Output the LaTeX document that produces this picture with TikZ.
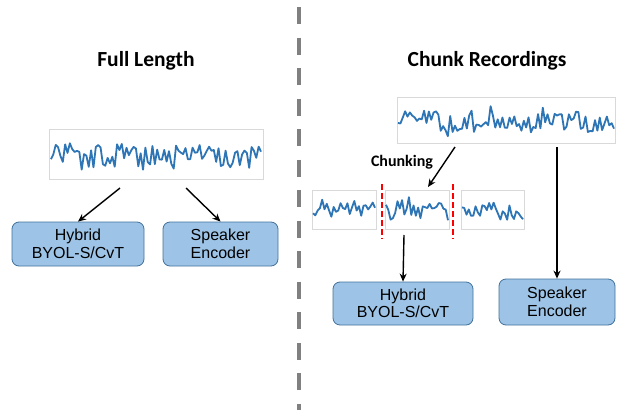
\documentclass[tikz,border=0pt]{standalone}
\usepackage{fontspec}
\setmainfont{Liberation Sans}
\newfontfamily\calib{Carlito}
\usetikzlibrary{arrows.meta}
\definecolor{boxfill}{HTML}{9DC3E6}
\definecolor{boxline}{HTML}{41719C}
\definecolor{wavecol}{HTML}{2E75B6}
\definecolor{framecol}{HTML}{D9D9D9}
\definecolor{divgray}{HTML}{808080}
\newcommand{\wavefm}[6]{%
  \pgfmathsetseed{#5}%
  \draw[wave] plot[domain=#1:#2, samples=#6] (\x, {#3 + #4*(0.8*rand + 0.35*rand*rand*rand + 0.25*sin(\x*5) + 0.2*sin(\x*13+40))});%
}
\begin{document}
\begin{tikzpicture}[x=1pt,y=-1pt,
  modbox/.style={draw=boxline, fill=boxfill, rounded corners=7pt, line width=0.8pt,
    align=center, inner sep=0pt, font=\fontsize{16}{17.5}\selectfont},
  frame/.style={draw=framecol, line width=0.6pt, fill=white, inner sep=0pt},
  wave/.style={wavecol, line width=1.8pt, line join=round},
  arr/.style={line width=1.4pt, -{Stealth[length=8pt,width=7pt]}},
  title/.style={font=\calib\bfseries\fontsize{21.5}{26}\selectfont, anchor=base},
  reddash/.style={red, line width=2pt, dash pattern=on 6pt off 3pt}
]
\useasboundingbox (0,0) rectangle (624,410);

% divider
\coordinate (dtop) at (299,7);
\coordinate (dbot) at (299,410);
\draw[divgray, line width=4.5pt, dash pattern=on 17pt off 13.5pt] (dtop) -- (dbot);

% titles
\node[title] (t1) at (146,66) {Full Length};
\node[title] (t2) at (487,66) {Chunk Recordings};

% left side
\node[frame, minimum width=214pt, minimum height=50pt] (f1) at (156,154) {};
\wavefm{51}{261}{155}{14}{42}{90}

\node[modbox, minimum width=132pt, minimum height=44pt] (hyb1) at (78,244) {Hybrid\\BYOL-S/CvT};
\node[modbox, minimum width=115pt, minimum height=44pt] (spk1) at (220.5,244) {Speaker\\Encoder};

\coordinate (s1) at (120,188);
\coordinate (s2) at (186,188);
\draw[arr] (s1) -- (hyb1.north);
\draw[arr] (s2) -- (spk1.north);

% right side
\node[frame, minimum width=218pt, minimum height=46pt] (f2) at (506,120) {};
\wavefm{398}{614}{121}{13}{7}{92}

\node[frame, minimum width=64pt, minimum height=39pt] (c1) at (344,209.5) {};
\node[frame, minimum width=64pt, minimum height=39pt] (c2) at (417,209.5) {};
\node[frame, minimum width=63pt, minimum height=39pt] (c3) at (492.5,209.5) {};
\wavefm{313}{375}{209}{11}{11}{28}
\wavefm{386}{448}{210}{12}{23}{28}
\wavefm{462}{523}{212}{10}{5}{28}

\coordinate (r1a) at (382,184);
\coordinate (r1b) at (382,239);
\coordinate (r2a) at (453,184);
\coordinate (r2b) at (453,239);
\draw[reddash] (r1a) -- (r1b);
\draw[reddash] (r2a) -- (r2b);

\node[font=\calib\bfseries\fontsize{16}{19}\selectfont, anchor=base] (chk) at (402,166) {Chunking};

\node[modbox, minimum width=140pt, minimum height=43pt] (hyb2) at (403,303.5) {Hybrid\\BYOL-S/CvT};
\node[modbox, minimum width=116pt, minimum height=46pt] (spk2) at (557,302) {Speaker\\Encoder};

\coordinate (s3) at (455,147);
\coordinate (e3) at (428,187);
\coordinate (s4) at (404,235);
\coordinate (s5) at (557,147);
\draw[arr] (s3) -- (e3);
\draw[arr] (s4) -- (hyb2.north);
\draw[arr] (s5) -- (spk2.north);
\end{tikzpicture}
\end{document}
